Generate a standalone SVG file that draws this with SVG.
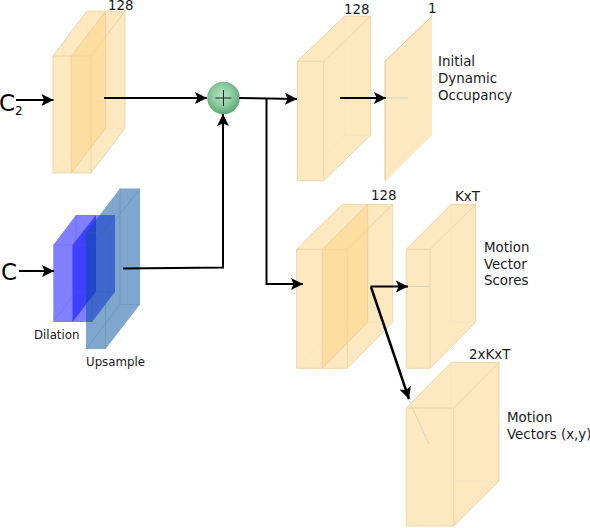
<svg xmlns="http://www.w3.org/2000/svg" width="590" height="528" viewBox="0 0 590 528">
<style>
text{font-family:"DejaVu Sans",sans-serif;font-size:13.4px;fill:#1a1a1a}
.sil{fill:#fee8bf;stroke:none}
.ln{fill:none;stroke:#ecd6ab;stroke-width:1}
.ln2{fill:none;stroke:#f4e4c6;stroke-width:.8}
.pl{fill:#ffd27a;fill-opacity:.45;stroke:#e6cc9a;stroke-width:.8}
.c{fill:none;stroke:#000;stroke-width:2}
.a{fill:none;stroke:#000;stroke-width:2;marker-end:url(#ah)}
.f{fill:none;stroke:#c9cfc0;stroke-width:.8}
.big{font-size:23px;fill:#000}
.small{font-size:11.8px}
</style>
<defs>
<marker id="ah" markerUnits="userSpaceOnUse" markerWidth="14" markerHeight="15" refX="12" refY="7.500" orient="auto"><path d="M0 1.500 L12 7.500 L0 13.500 L2.500 7.500Z" fill="#000"/></marker>
<radialGradient id="sp" cx=".46" cy=".42" r=".58"><stop offset="0" stop-color="#b8e4c4"/><stop offset=".55" stop-color="#8ccb9f"/><stop offset="1" stop-color="#5fa676"/></radialGradient>
</defs>
<g id="box-c2">
<path class="sil" d="M53 56L87 11H125V128L91 173H53Z"/>
<path class="ln" d="M53 56L87 11H125V128L91 173H53ZM53 56H91V173M91 56L125 11"/>
<path class="ln2" d="M87 11V128H125M87 128L53 173"/>
<path class="pl" d="M71.300 56L105.700 11V128L71.300 173Z"/>
<text x="108" y="10">128</text>
</g>
<g id="label-c2"><text class="big" x="-1" y="110.500">C</text><text x="15" y="115" style="font-size:12px;fill:#000">2</text></g>
<g id="box-dilation">
<path d="M53.300 245L76 215H115V291.700L92 322H53.300Z" fill="#0000ff" fill-opacity=".5"/>
<path d="M72.500 245L96 215V291.700L72.500 322Z" fill="#0000ff" fill-opacity=".5"/>
<path d="M53.300 245H92V322M92 245L115 215M76 215V291.700H115M76 291.700L53.300 322" fill="none" stroke="#5a5ad8" stroke-width=".5" stroke-opacity=".6"/>
<text class="small" x="34" y="339">Dilation</text>
</g>
<g id="box-upsample">
<path d="M86 233L120 188.500H140V304.500L105.500 349H86Z" fill="#004d99" fill-opacity=".5"/>
<path d="M86 233H105.500V349M105.500 233L140 188.500M120 188.500V304.500H140M120 304.500L86 349" fill="none" stroke="#4f77a8" stroke-width=".5" stroke-opacity=".6"/>
<text class="small" x="86" y="366">Upsample</text>
</g>
<g id="label-c"><text class="big" x="1" y="280">C</text></g>
<g id="sum">
<circle cx="223.500" cy="98" r="16.300" fill="url(#sp)"/>
<path d="M215.500 98H231.500M223.500 90V106" stroke="#1a2a20" stroke-width="1" fill="none"/>
</g>
<g id="box-128-top">
<path class="sil" d="M297.300 61.300L344.700 16H370.700V135L323.700 180.700H297.300Z"/>
<path class="ln" d="M297.300 61.300L344.700 16H370.700V135L323.700 180.700H297.300ZM297.300 61.300H323.700V180.700M323.700 61.300L370.700 16"/>
<path class="ln2" d="M344.700 16V135H370.700M344.700 135L297.300 180.700"/>
<text x="344" y="14">128</text>
</g>
<g id="plane-1">
<path class="sil" d="M385 61.300L432 16V135L386 180.700H385Z"/>
<path d="M385 61.300L432 16M385 61.300V180.700" fill="none" stroke="#dcc49a" stroke-width="1"/>
<text x="428" y="13">1</text>
<text x="438" y="66">Initial</text>
<text x="438" y="83">Dynamic</text>
<text x="438" y="99.500">Occupancy</text>
</g>
<g id="box-128-mid">
<path class="sil" d="M296.700 249.300L342.300 204.300H392.700V322L347.300 368.300H296.700Z"/>
<path class="ln" d="M296.700 249.300L342.300 204.300H392.700V322L347.300 368.300H296.700ZM296.700 249.300H347.300V368.300M347.300 249.300L392.700 204.300"/>
<path class="ln2" d="M342.300 204.300V322H392.700M342.300 322L296.700 368.300"/>
<path class="pl" d="M322.300 249.300L367.700 204.300V322L322.300 368.300Z"/>
<text x="371" y="200">128</text>
</g>
<g id="box-kxt">
<path class="sil" d="M406.300 249.300L451.300 204.300H475.700V322L430 368.300H406.300Z"/>
<path class="ln" d="M406.300 249.300L451.300 204.300H475.700V322L430 368.300H406.300ZM406.300 249.300H430V368.300M430 249.300L475.700 204.300"/>
<path class="ln2" d="M451.300 204.300V322H475.700M451.300 322L406.300 368.300"/>
<text x="455" y="201">KxT</text>
<text x="484" y="252">Motion</text>
<text x="484" y="269">Vector</text>
<text x="484" y="285">Scores</text>
</g>
<g id="box-2xkxt">
<path class="sil" d="M406.300 408L451.300 362.300H499V481L453.700 526H406.300Z"/>
<path class="ln" d="M406.300 408L451.300 362.300H499V481L453.700 526H406.300ZM406.300 408H453.700V526M453.700 408L499 362.300"/>
<path class="ln2" d="M451.300 362.300V481H499M451.300 481L406.300 526"/>
<text x="469" y="359">2xKxT</text>
<text x="507" y="422">Motion</text>
<text x="507" y="439">Vectors (x,y)</text>
</g>
<g id="connectors">
<path class="f" d="M386 98H408M407 286.500H430M407 396L429 444"/>
<path class="a" d="M16 100H53.500"/>
<path class="a" d="M104 98H207"/>
<path class="a" d="M239 98L297 99"/>
<path class="a" d="M266.500 98V284H303"/>
<path class="a" d="M19 271H54"/>
<path class="a" d="M123 268.500L223 267.500V114"/>
<path class="a" d="M340 98H386"/>
<path class="a" d="M370.500 286.500L408 286.500"/>
<path class="a" style="stroke-width:2.500" d="M371 287L409 399"/>
</g>
</svg>
